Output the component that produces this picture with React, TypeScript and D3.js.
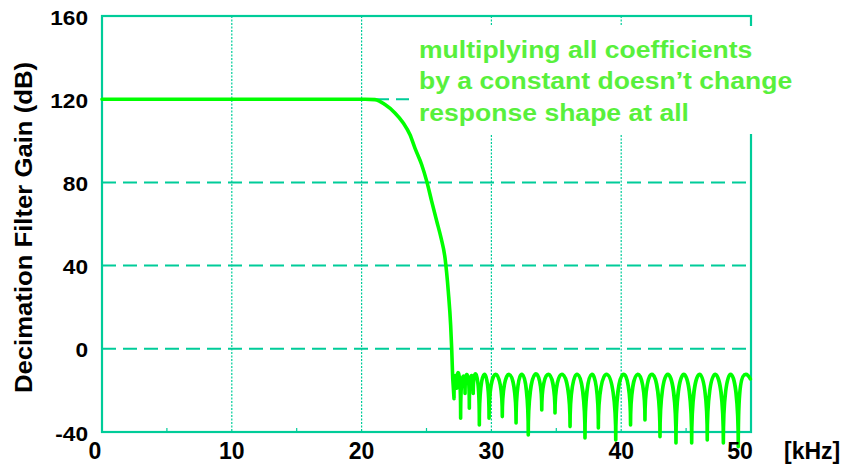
import React from "react";
import * as d3 from "d3";

// Passband and transition band of the decimation filter (kHz, dB)
const passFreq = [
  0, 20.26, 21.03, 21.8, 22.57, 23.21, 23.73, 24.11, 24.63, 25.02, 25.4, 25.79, 26.12,
  26.43, 26.68, 26.86, 26.94, 27.02,
];
const passGain = [
  120, 120, 119.8, 117.4, 113.4, 108.6, 102.9, 96.5, 88.5, 80.5, 70.9, 61.3, 53.3,
  43.5, 27.5, 11.4, 0.2, -14.2,
];

// Stopband nulls (kHz, dB)
const nullFreq = [
  27.12, 27.33, 27.63, 27.97, 28.3, 28.6, 29.07, 29.82, 30.84, 31.9, 32.84, 33.88, 34.9,
  36.06, 37.21, 38.24, 39.58, 40.72, 41.83, 42.99, 44.22, 45.43, 46.63, 47.87, 49.02,
];
const nullGain = [
  -24, -19, -33.4, -21.5, -28.6, -21.5, -36.6, -33.4, -32.6, -35.7, -41.4, -29.4, -30.9,
  -37.4, -42.9, -38.1, -43.8, -36.6, -34.2, -42.3, -45.3, -45.3, -43.8, -45.3, -47.1,
];
// Peak level of each stopband lobe between consecutive nulls (dB)
const lobePeak = [
  -13, -12, -13.5, -12.5, -13, -12.5, -12.3, -12.3, -12.3, -12.3, -12.3, -12.3,
  -12.3, -12.3, -12.3, -12.3, -12.3, -12.3, -12.3, -12.3, -12.3, -12.3, -12.3, -12.3,
];
// Last partial lobe up to the band edge
const tailFreq = [49.6, 49.95];
const tailGain = [-12.3, -14.5];

const xTicks = [0, 10, 20, 30, 40, 50];
const xGrid = [10, 20, 30, 40];
const xMinor = [5, 15, 25, 35, 45];
const yTicks = [-40, 0, 40, 80, 120, 160];
const yGrid = [0, 40, 80, 120];

const noteLines = [
  "multiplying all coefficients",
  "by a constant doesn\u2019t change",
  "response shape at all",
];

const W = 851;
const H = 470;
const FONT = "'Liberation Sans', Arial, Helvetica, sans-serif";
const TEAL = "#00CC99";
const GREEN = "#00FF00";
const NOTE_GREEN = "#58F03C";

export default function App() {
  const x = d3.scaleLinear().domain([0, 50]).range([102, 751]);
  const y = d3.scaleLinear().domain([-40, 160]).range([432, 16]);

  // Build the response path
  const ctx = d3.path();
  const passPts: [number, number][] = passFreq.map((f, i) => [f, passGain[i]]);
  const passLine = d3
    .line<[number, number]>()
    .x((d) => x(d[0]))
    .y((d) => y(d[1]))
    .curve(d3.curveMonotoneX)
    .context(ctx as any);
  passLine(passPts);
  ctx.lineTo(x(nullFreq[0]), y(nullGain[0]));
  for (let i = 0; i < nullFreq.length - 1; i++) {
    const xa = x(nullFreq[i]);
    const ya = y(nullGain[i]);
    const xb = x(nullFreq[i + 1]);
    const yb = y(nullGain[i + 1]);
    const yp = y(lobePeak[i]);
    // control height so the lobe top reaches the peak level
    const yc = (yp - 0.125 * (ya + yb)) / 0.75;
    ctx.bezierCurveTo(xa, yc, xb, yc, xb, yb);
  }
  {
    const n = nullFreq.length - 1;
    const xa = x(nullFreq[n]);
    const ya = y(nullGain[n]);
    const xp = x(tailFreq[0]);
    const yp = y(tailGain[0]);
    const xe = x(tailFreq[1]);
    const ye = y(tailGain[1]);
    ctx.bezierCurveTo(xa, yp + 0.1 * (ya - yp), xa + 0.45 * (xp - xa), yp, xp, yp);
    ctx.quadraticCurveTo((xp + xe) / 2, yp, xe, ye);
  }
  const responsePath = ctx.toString();

  const [x0, x1] = x.range();
  const [yB, yT] = y.range();

  return (
    <svg
      width={W}
      height={H}
      viewBox={`0 0 ${W} ${H}`}
      style={{ position: "absolute", left: 0, top: 0, background: "#fff" }}
    >
      <rect x={0} y={0} width={W} height={H} fill="#fff" />

      {/* grid */}
      {xGrid.map((v) => (
        <line
          key={`vg${v}`}
          x1={x(v)}
          x2={x(v)}
          y1={yT}
          y2={yB}
          stroke={TEAL}
          strokeWidth={1.2}
          strokeDasharray="2 1.5"
        />
      ))}
      {yGrid.map((v) => (
        <line
          key={`hg${v}`}
          x1={x0}
          x2={x1}
          y1={y(v)}
          y2={y(v)}
          stroke={TEAL}
          strokeWidth={2}
          strokeDasharray="14 7"
        />
      ))}
      {xMinor.map((v) => (
        <line key={`mt${v}`} x1={x(v)} x2={x(v)} y1={yB} y2={yB - 4} stroke={TEAL} strokeWidth={1.2} />
      ))}

      {/* frame */}
      <rect x={x0} y={yT} width={x1 - x0} height={yB - yT} fill="none" stroke={TEAL} strokeWidth={2.2} />

      {/* annotation backdrop */}
      <rect x={409} y={26} width={395} height={108} fill="#fff" />

      {/* response */}
      <path
        d={responsePath}
        fill="none"
        stroke={GREEN}
        strokeWidth={3.6}
        strokeLinejoin="round"
        strokeLinecap="round"
      />

      {/* y tick labels */}
      {yTicks.map((v) => (
        <text
          key={`yt${v}`}
          transform={`translate(88, ${y(v) + 8.5}) scale(1.08, 1)`}
          textAnchor="end"
          fontFamily={FONT}
          fontWeight="bold"
          fontSize={21}
          fill="#000"
        >
          {v}
        </text>
      ))}

      {/* x tick labels */}
      {xTicks.map((v) => {
        const off = v === 0 ? -7 : v === 50 ? -11 : 0;
        return (
          <text
            key={`xt${v}`}
            x={x(v) + off}
            y={458.5}
            textAnchor="middle"
            fontFamily={FONT}
            fontWeight="bold"
            fontSize={23}
            fill="#000"
          >
            {v}
          </text>
        );
      })}
      <text x={784} y={458.5} fontFamily={FONT} fontWeight="bold" fontSize={23} fill="#000">
        [kHz]
      </text>

      {/* y axis title */}
      <text
        transform={`translate(32, 227.5) rotate(-90)`}
        textAnchor="middle"
        fontFamily={FONT}
        fontWeight="bold"
        fontSize={24}
        textLength={331}
        lengthAdjust="spacingAndGlyphs"
        fill="#000"
      >
        Decimation Filter Gain (dB)
      </text>

      {/* annotation */}
      {noteLines.map((s, i) => (
        <text
          key={`n${i}`}
          transform={`translate(419, ${57.5 + i * 31.7}) scale(1.13, 1)`}
          fontFamily={FONT}
          fontWeight="bold"
          fontSize={23.5}
          fill={NOTE_GREEN}
        >
          {s}
        </text>
      ))}
    </svg>
  );
}
